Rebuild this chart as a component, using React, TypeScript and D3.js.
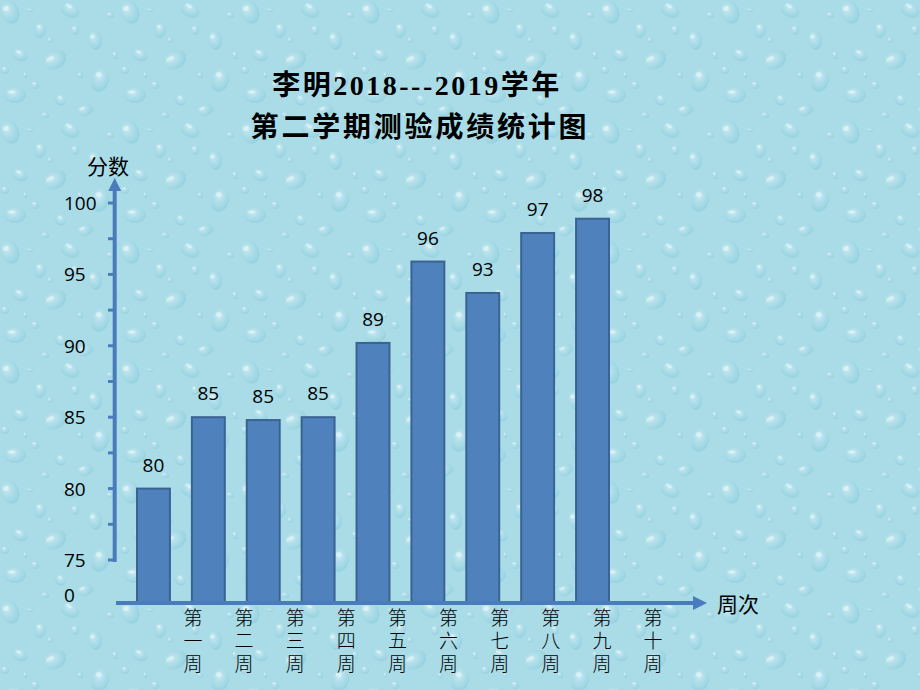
import React from "react";
import * as d3 from "d3";

const categories = ["第一周", "第二周", "第三周", "第四周", "第五周", "第六周", "第七周", "第八周", "第九周", "第十周"];
const barWeeks = ["第一周", "第二周", "第三周", "第四周", "第五周", "第六周", "第七周", "第八周", "第九周"];
const scores = [80, 85, 85, 85, 89, 96, 93, 97, 98];
const barLevels = [80, 85, 84.8, 85, 90.2, 95.9, 93.7, 97.9, 98.9];
const yTicks = [75, 77.5, 80, 82.5, 85, 87.5, 90, 92.5, 95, 97.5, 100];
const yTickLabels = [0, 75, 80, 85, 90, 95, 100];
const titleLines = ["李明2018---2019学年", "第二学期测验成绩统计图"];
const yAxisTitle = "分数";
const xAxisTitle = "周次";

const W = 920;
const H = 690;

export default function App() {
  const y = d3.scaleLinear().domain([0, 75, 100]).range([603, 560, 203]);
  const xBar = d3.scaleBand<string>().domain(barWeeks).range([137, 609]).paddingInner(0.4).paddingOuter(0);
  const xLab = d3.scalePoint<string>().domain(categories).range([193, 653]);

  const axisX = 114.7;
  const axisColor = "#4a7cbd";
  const yTop = 178;
  const xEnd = 707;
  const baseY = y(0);

  const drops = [
    [10, 12, 9, 12, -20], [40, 30, 6, 8, 10], [70, 10, 10, 7, 30], [95, 40, 7, 10, -10],
    [20, 55, 8, 6, 20], [55, 60, 12, 9, -30], [100, 80, 9, 12, 15], [15, 95, 11, 8, 0],
    [60, 100, 6, 5, 40], [85, 110, 8, 6, -20], [35, 85, 4, 4, 0], [75, 30, 4, 5, 0],
    [110, 15, 4, 3, 0], [5, 70, 4, 4, 0], [45, 115, 4, 3, 0], [80, 75, 3, 3, 0],
    [30, 10, 3, 2, 0], [115, 55, 3, 4, 0], [50, 40, 3, 3, 0], [25, 75, 2, 3, 0],
  ];

  return (
    <svg width={W} height={H} style={{ position: "absolute", left: 0, top: 0 }} xmlns="http://www.w3.org/2000/svg">
      <defs>
        <radialGradient id="drop" cx="0.4" cy="0.35" r="0.7">
          <stop offset="0" stopColor="#d6f0f6" stopOpacity="0.7" />
          <stop offset="0.6" stopColor="#a3d8e5" stopOpacity="0.5" />
          <stop offset="1" stopColor="#86c6d8" stopOpacity="0.6" />
        </radialGradient>
        <pattern id="bgpat" width="120" height="120" patternUnits="userSpaceOnUse">
          <rect width="120" height="120" fill="#a9dce7" />
          {drops.map((d, i) => (
            <g key={i} transform={`translate(${d[0]},${d[1]}) rotate(${d[4]})`}>
              <ellipse rx={d[2]} ry={d[3]} fill="url(#drop)" />
              <ellipse cx={-d[2] * 0.3} cy={-d[3] * 0.4} rx={d[2] * 0.35} ry={d[3] * 0.2} fill="#ffffff" opacity="0.4" />
            </g>
          ))}
        </pattern>
      </defs>
      <rect width={W} height={H} fill="url(#bgpat)" />

      {/* title */}
      <g fontFamily="'Liberation Serif', 'Noto Sans CJK SC', serif" fontWeight="700" fontSize="28" fill="#000" textAnchor="middle">
        <text x={417} y={85} dominantBaseline="central" letterSpacing="2.5">{titleLines[0]}</text>
        <text x={420} y={127} dominantBaseline="central" letterSpacing="2.8">{titleLines[1]}</text>
      </g>

      {/* bars */}
      {barWeeks.map((w, i) => (
        <rect
          key={w}
          x={xBar(w)}
          y={y(barLevels[i])}
          width={xBar.bandwidth()}
          height={baseY - y(barLevels[i])}
          fill="#4f81bd"
          stroke="#3a6393"
          strokeWidth={2}
        />
      ))}

      {/* value labels */}
      <g fontFamily="'Open Sans', 'Noto Sans', sans-serif" fontSize="19" fill="#000" textAnchor="middle">
        {barWeeks.map((w, i) => (
          <text key={w} x={(xBar(w) as number) + xBar.bandwidth() / 2} y={y(barLevels[i]) - 17}>
            {scores[i]}
          </text>
        ))}
      </g>

      {/* y axis */}
      <line x1={axisX} x2={axisX} y1={y(75) + 2} y2={yTop + 10} stroke={axisColor} strokeWidth={4} />
      <path d={`M${axisX},${yTop} L${axisX - 6.5},${yTop + 13} L${axisX + 6.5},${yTop + 13} Z`} fill={axisColor} />
      {yTicks.map((t) => (
        <line key={t} x1={108} x2={axisX} y1={y(t)} y2={y(t)} stroke={axisColor} strokeWidth={3} />
      ))}
      <g fontFamily="'Open Sans', 'Noto Sans', sans-serif" fontSize="19" fill="#000">
        {yTickLabels.map((t) => (
          <text key={t} x={64} y={y(t) - (t === 0 ? 8 : 0)} dominantBaseline="central">
            {t}
          </text>
        ))}
      </g>
      <text x={87} y={165} fontFamily="'Noto Sans CJK SC', sans-serif" fontSize="21" dominantBaseline="central" fill="#000">
        {yAxisTitle}
      </text>

      {/* x axis */}
      <line x1={116} x2={xEnd - 10} y1={baseY} y2={baseY} stroke={axisColor} strokeWidth={4} />
      <path d={`M${xEnd},${baseY} L${xEnd - 14},${baseY - 7} L${xEnd - 14},${baseY + 7} Z`} fill={axisColor} />
      <text x={717} y={baseY} fontFamily="'Noto Sans CJK SC', sans-serif" fontSize="21" dominantBaseline="central" fill="#000">
        {xAxisTitle}
      </text>

      {/* category labels (vertical) */}
      <g fontFamily="'Noto Sans CJK SC', sans-serif" fontSize="19" fill="#000" fontWeight="300">
        {categories.map((c) => (
          <text
            key={c}
            x={xLab(c)}
            y={608}
            style={{ writingMode: "vertical-rl" }}
            letterSpacing="4"
          >
            {c}
          </text>
        ))}
      </g>
    </svg>
  );
}
